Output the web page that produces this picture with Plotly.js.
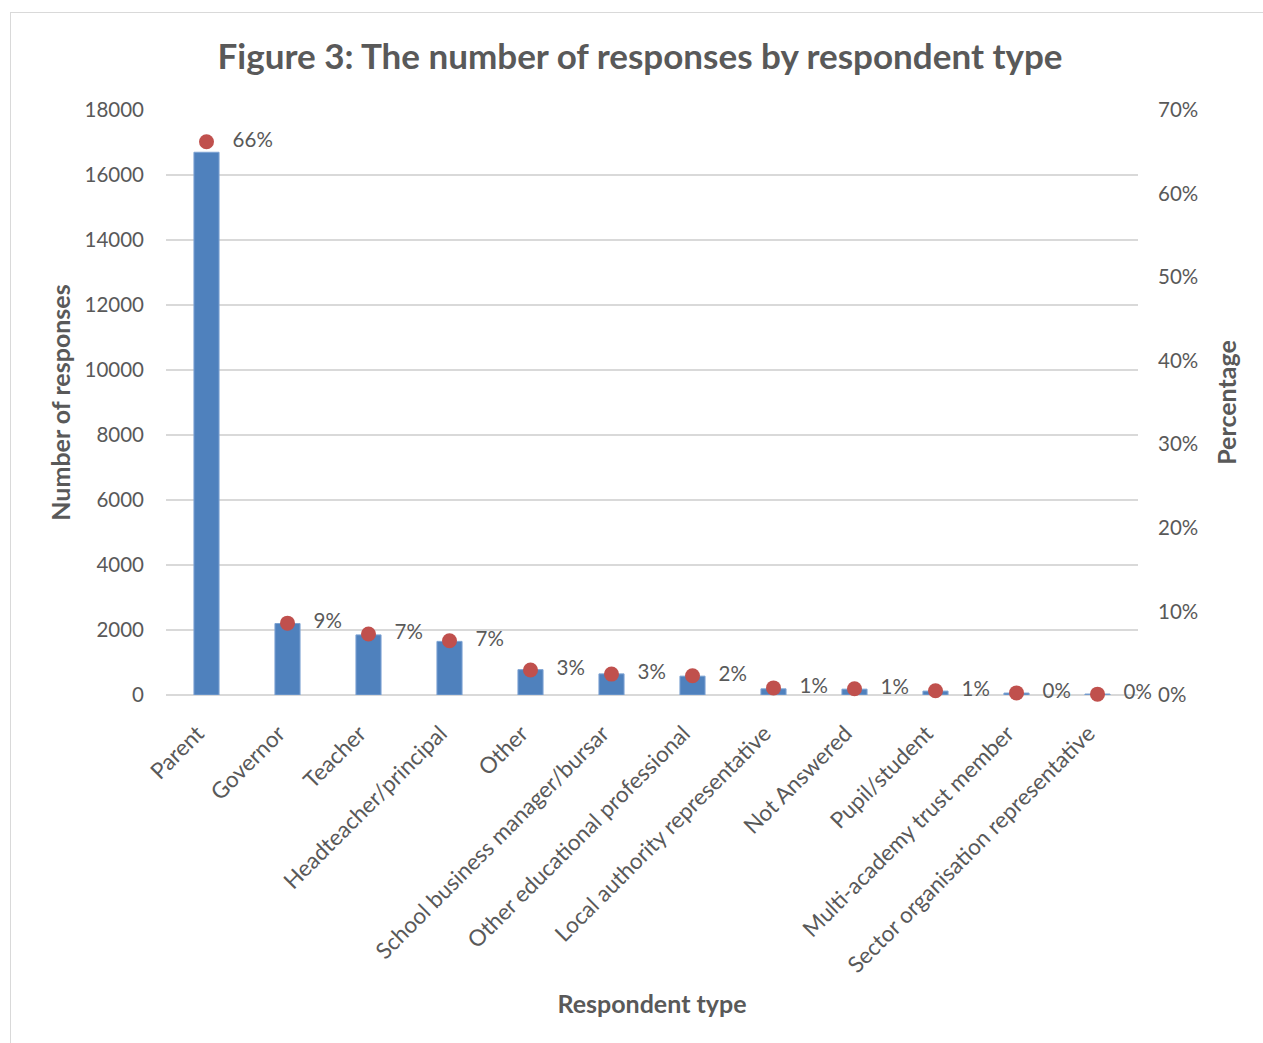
<!DOCTYPE html>
<html>
<head>
<meta charset="utf-8">
<script src="https://cdn.plot.ly/plotly-3.0.1.min.js"></script>
<style>
  html, body { margin: 0; padding: 0; background: #ffffff; overflow: hidden; }
  #frame { position: absolute; left: 10px; top: 12px; width: 1260px; height: 1040px; border: 1px solid #d9d9d9; box-sizing: border-box; }
  #chart { width: 100%; height: 100%; }
</style>
</head>
<body>
<div id="frame"><div id="chart"></div></div>
<script>
const categories = ["Parent", "Governor", "Teacher", "Headteacher/principal", "Other",
  "School business manager/bursar", "Other educational professional",
  "Local authority representative", "Not Answered", "Pupil/student",
  "Multi-academy trust member", "Sector organisation representative"];
const responses = [16700, 2200, 1850, 1650, 780, 650, 580, 190, 180, 120, 60, 30];
const percentages = [0.662, 0.086, 0.073, 0.065, 0.030, 0.025, 0.023, 0.0085, 0.0075, 0.005, 0.0025, 0.001];
const percentLabels = ["66%", "9%", "7%", "7%", "3%", "3%", "2%", "1%", "1%", "1%", "0%", "0%"];
const leftTicks = [0, 2000, 4000, 6000, 8000, 10000, 12000, 14000, 16000, 18000];
const rightTicks = [0, 0.1, 0.2, 0.3, 0.4, 0.5, 0.6, 0.7];
const rightTickLabels = ["0%", "10%", "20%", "30%", "40%", "50%", "60%", "70%"];

const fontFam = "Lato, 'Open Sans', sans-serif";
const grey = "#595959";

const traces = [
  {
    type: "bar",
    x: categories,
    y: responses,
    width: 0.31,
    marker: { color: "#4f81bd", line: { color: "#7ea3d3", width: 1 } },
    hoverinfo: "x+y",
    showlegend: false
  },
  {
    type: "scatter",
    mode: "markers+text",
    x: categories,
    y: percentages,
    yaxis: "y2",
    marker: { color: "#c0504d", size: 15 },
    text: percentLabels.map(t => "   " + t),
    textposition: "middle right",
    textfont: { family: fontFam, size: 20.5, color: grey },
    cliponaxis: false,
    showlegend: false
  }
];

const layout = {
  width: 1258,
  height: 1038,
  margin: { l: 155, r: 131, t: 97, b: 356 },
  paper_bgcolor: "#ffffff",
  plot_bgcolor: "#ffffff",
  font: { family: fontFam, color: grey, size: 20 },
  title: {
    text: "<b>Figure 3: The number of responses by respondent type</b>",
    font: { family: fontFam, size: 35, color: grey },
    x: 0.5, xanchor: "center",
    y: 1 - 44 / 1038, yanchor: "middle"
  },
  xaxis: {
    type: "category",
    range: [-0.5, 11.5],
    autorange: false,
    tickangle: -45,
    ticklabelstandoff: 20,
    ticklabelshift: -9,
    tickfont: { family: fontFam, size: 22.5, color: grey },
    showgrid: false,
    showline: false,
    ticks: "",
    title: { text: "<b>Respondent type</b>", font: { family: fontFam, size: 25, color: grey }, standoff: 18 },
    automargin: false
  },
  yaxis: {
    range: [0, 18000],
    tickvals: leftTicks,
    ticktext: leftTicks.map(String),
    showgrid: true,
    gridcolor: "#d9d9d9",
    gridwidth: 1.5,
    zeroline: true,
    zerolinecolor: "#d9d9d9",
    zerolinewidth: 1.5,
    showline: false,
    ticks: "",
    ticklabelstandoff: 21,
    tickfont: { family: fontFam, size: 20.5, color: grey },
    title: { text: "<b>Number of responses</b>", font: { family: fontFam, size: 25, color: grey }, standoff: 6 },
    automargin: false
  },
  yaxis2: {
    overlaying: "y",
    side: "right",
    range: [0, 0.7],
    tickvals: rightTicks,
    ticktext: rightTickLabels,
    showgrid: false,
    zeroline: false,
    showline: false,
    ticks: "",
    ticklabelstandoff: 19,
    tickfont: { family: fontFam, size: 20.5, color: grey },
    title: { text: "<b>Percentage</b>", font: { family: fontFam, size: 25, color: grey }, standoff: 21 },
    automargin: false
  }
};

Plotly.newPlot("chart", traces, layout, { displayModeBar: false, responsive: false });
</script>
</body>
</html>
